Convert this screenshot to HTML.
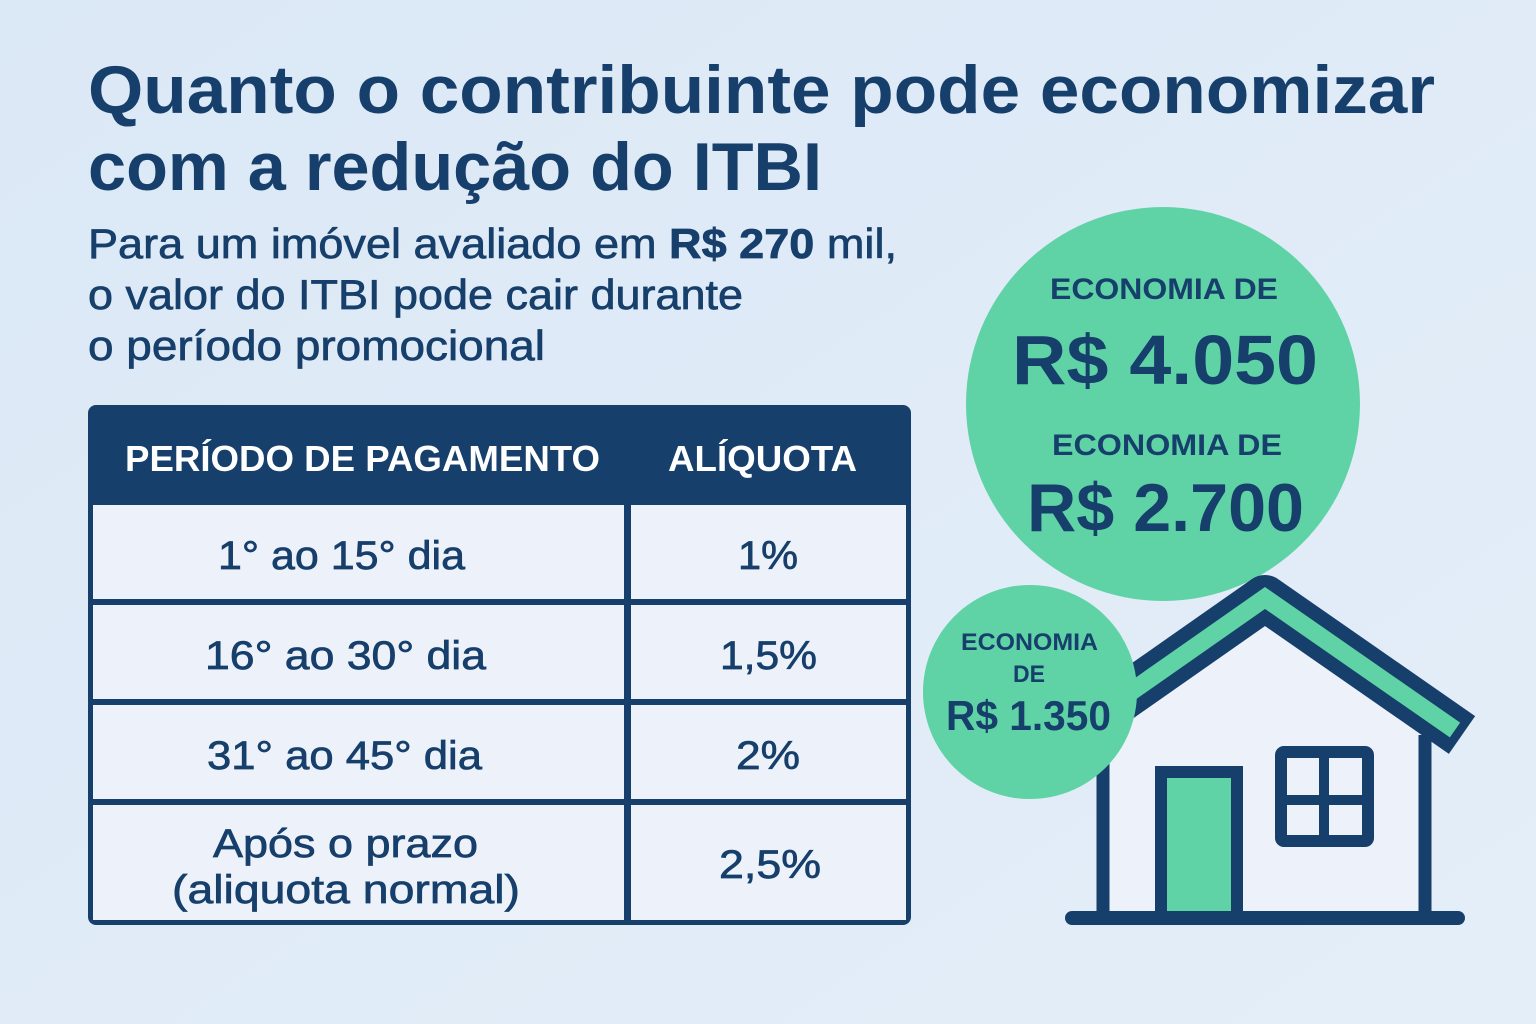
<!DOCTYPE html>
<html><head><meta charset="utf-8"><style>
html,body{margin:0;padding:0;width:1536px;height:1024px;overflow:hidden;background:#dde9f6}
svg{display:block}
text{font-family:"Liberation Sans",sans-serif;fill:#173f6b}
.m{stroke:#173f6b;stroke-width:0.7}
</style></head><body>
<svg width="1536" height="1024" viewBox="0 0 1536 1024">
<defs><linearGradient id="bg" x1="0" y1="0" x2="1" y2="1"><stop offset="0" stop-color="#dbe8f6"/><stop offset="1" stop-color="#e4eef8"/></linearGradient></defs>
<rect width="1536" height="1024" fill="url(#bg)"/>
<g font-weight="bold">
<text x="88" y="113" font-size="68" textLength="1347" lengthAdjust="spacingAndGlyphs">Quanto o contribuinte pode economizar</text>
<text x="88" y="190" font-size="68" textLength="734" lengthAdjust="spacingAndGlyphs">com a redução do ITBI</text>
</g>
<g class="m">
<text x="88" y="258" font-size="42" textLength="809" lengthAdjust="spacingAndGlyphs">Para um imóvel avaliado em <tspan font-weight="bold">R$ 270</tspan> mil,</text>
<text x="88" y="309" font-size="42" textLength="655" lengthAdjust="spacingAndGlyphs">o valor do ITBI pode cair durante</text>
<text x="88" y="360" font-size="42" textLength="457" lengthAdjust="spacingAndGlyphs">o período promocional</text>
</g>

<rect x="88" y="405" width="823" height="520" rx="8" fill="#173f6b"/>
<rect x="93" y="505" width="531" height="94" fill="#edf2fa"/>
<rect x="631" y="505" width="275" height="94" fill="#edf2fa"/>
<rect x="93" y="605" width="531" height="94" fill="#edf2fa"/>
<rect x="631" y="605" width="275" height="94" fill="#edf2fa"/>
<rect x="93" y="705" width="531" height="94" fill="#edf2fa"/>
<rect x="631" y="705" width="275" height="94" fill="#edf2fa"/>
<rect x="93" y="805" width="531" height="115" fill="#edf2fa"/>
<rect x="631" y="805" width="275" height="115" fill="#edf2fa"/>
<g font-weight="bold">
<text x="125" y="471" font-size="36" style="fill:#fff" textLength="475" lengthAdjust="spacingAndGlyphs">PERÍODO DE PAGAMENTO</text>
<text x="668" y="471" font-size="36" style="fill:#fff" textLength="189" lengthAdjust="spacingAndGlyphs">ALÍQUOTA</text>
</g>
<g font-size="40" class="m">
<text x="218" y="569" textLength="247" lengthAdjust="spacingAndGlyphs">1° ao 15° dia</text>
<text x="205" y="669" textLength="281" lengthAdjust="spacingAndGlyphs">16° ao 30° dia</text>
<text x="207" y="769" textLength="275" lengthAdjust="spacingAndGlyphs">31° ao 45° dia</text>
<text x="213" y="857" textLength="265" lengthAdjust="spacingAndGlyphs">Após o prazo</text>
<text x="172" y="903" textLength="348" lengthAdjust="spacingAndGlyphs">(aliquota normal)</text>
<text x="738" y="569" textLength="60" lengthAdjust="spacingAndGlyphs">1%</text>
<text x="720" y="669" textLength="97" lengthAdjust="spacingAndGlyphs">1,5%</text>
<text x="736" y="769" textLength="64" lengthAdjust="spacingAndGlyphs">2%</text>
<text x="719" y="878" textLength="102" lengthAdjust="spacingAndGlyphs">2,5%</text>
</g>

<circle cx="1163" cy="404" r="197" fill="#5fd3a6"/>
<g font-weight="bold">
<text x="1050" y="299" font-size="30" textLength="228" lengthAdjust="spacingAndGlyphs">ECONOMIA DE</text>
<text x="1012" y="384" font-size="70" textLength="306" lengthAdjust="spacingAndGlyphs">R$ 4.050</text>
<text x="1052" y="455" font-size="30" textLength="230" lengthAdjust="spacingAndGlyphs">ECONOMIA DE</text>
<text x="1027" y="531" font-size="68" textLength="277" lengthAdjust="spacingAndGlyphs">R$ 2.700</text>
</g>

<polygon points="1103,720 1265,600 1425,730 1425,918 1103,918" fill="#edf2fa"/>
<polyline points="1105,710 1265,598 1462,735" fill="none" stroke="#173f6b" stroke-width="46" stroke-linejoin="round"/>
<polyline points="1105,710 1265,598 1455,730" fill="none" stroke="#5fd3a6" stroke-width="18" stroke-linejoin="miter"/>
<line x1="1103" y1="700" x2="1103" y2="918" stroke="#173f6b" stroke-width="13"/>
<line x1="1425" y1="735" x2="1425" y2="918" stroke="#173f6b" stroke-width="13"/>
<rect x="1161" y="772" width="76" height="146" fill="#5fd3a6" stroke="#173f6b" stroke-width="12"/>
<rect x="1281" y="752" width="87" height="89" rx="3" fill="#edf2fa" stroke="#173f6b" stroke-width="12"/>
<line x1="1324" y1="752" x2="1324" y2="841" stroke="#173f6b" stroke-width="10"/>
<line x1="1281" y1="800" x2="1368" y2="800" stroke="#173f6b" stroke-width="10"/>
<line x1="1072" y1="918" x2="1458" y2="918" stroke="#173f6b" stroke-width="14" stroke-linecap="round"/>

<circle cx="1030" cy="692" r="107" fill="#5fd3a6"/>
<g font-weight="bold">
<text x="961" y="650" font-size="24" textLength="137" lengthAdjust="spacingAndGlyphs">ECONOMIA</text>
<text x="1013" y="682" font-size="24" textLength="32" lengthAdjust="spacingAndGlyphs">DE</text>
<text x="946" y="730" font-size="42" textLength="165" lengthAdjust="spacingAndGlyphs">R$ 1.350</text>
</g>
</svg>
</body></html>
